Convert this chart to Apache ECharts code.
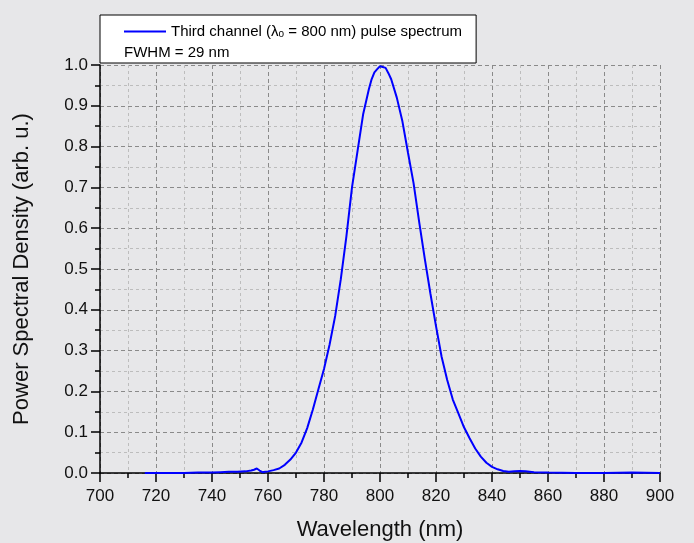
<!DOCTYPE html>
<html lang="en">
<head>
    <meta charset="UTF-8">
    <title>Third channel pulse spectrum</title>
    <script src="https://cdn.jsdelivr.net/npm/echarts@6/dist/echarts.min.js"></script>
    <style>
        body, html {
            margin: 0;
            padding: 0;
            width: 100%;
            height: 100%;
            overflow: hidden;
            background-color: #e7e7e9;
        }
        #container {
            width: 694px;
            height: 543px;
        }
    </style>
</head>
<body>
    <div id="container"></div>
    <script>
        // wavelength (nm) and spectral density
        var wavelength = [716, 720, 725, 730, 735, 740, 743, 746, 749, 752, 754, 755, 756, 757, 758, 759, 760,
            762, 764, 766, 768, 770, 772, 774, 776, 778, 780, 782, 784, 786, 788, 790, 792, 794, 796, 797, 798,
            799, 800, 800.5, 801, 802, 803, 804, 806, 808, 810, 812, 814, 816, 818, 820, 822, 824, 826, 828,
            830, 832, 834, 836, 838, 840, 842, 844, 846, 848, 850, 852, 855, 860, 870, 880, 890, 900];
        var psd = [0.000, 0.000, 0.000, 0.000, 0.001, 0.001, 0.002, 0.003, 0.003, 0.004, 0.006, 0.008, 0.011, 0.006, 0.002, 0.003, 0.004,
            0.007, 0.011, 0.020, 0.033, 0.050, 0.075, 0.110, 0.155, 0.205, 0.255, 0.315, 0.385, 0.475, 0.580, 0.700, 0.790, 0.880, 0.940, 0.965, 0.982,
            0.990, 0.997, 1.000, 0.995, 0.993, 0.980, 0.965, 0.920, 0.862, 0.785, 0.710, 0.615, 0.525, 0.440, 0.360, 0.285, 0.228, 0.180, 0.146,
            0.112, 0.085, 0.060, 0.040, 0.025, 0.015, 0.009, 0.005, 0.003, 0.004, 0.005, 0.004, 0.002, 0.001, 0.000, 0.000, 0.001, 0.000];
        var seriesName = 'Third channel (λo = 800 nm) pulse spectrum';
        var fwhmText = 'FWHM = 29 nm';

        var points = wavelength.map(function (w, i) { return [w, psd[i]]; });

        var font = 'Liberation Sans, Arial, sans-serif';
        var majorGrid = { show: true, lineStyle: { color: '#8a8a8a', type: [4, 3], width: 1 } };
        var minorGrid = { show: true, lineStyle: { color: '#bdbdbd', type: [3, 3], width: 1 } };

        var option = {
            backgroundColor: '#e7e7e9',
            animation: false,
            grid: { left: 100, right: 34, top: 65, bottom: 70, outerBoundsMode: 'none' },
            legend: {
                left: 100,
                top: 15,
                backgroundColor: '#ffffff',
                borderColor: '#000000',
                borderWidth: 1,
                padding: [9, 14, 24, 24],
                itemWidth: 42,
                itemHeight: 14,
                itemGap: 5,
                data: [{ name: seriesName, icon: 'path://M0,0L42,0L42,2L0,2Z' }],
                formatter: function () {
                    return '{a|Third channel (λ}{s|o}{a| = 800 nm) pulse spectrum}';
                },
                textStyle: {
                    fontFamily: font,
                    fontSize: 15,
                    color: '#000',
                    rich: {
                        a: { fontFamily: font, fontSize: 15, color: '#000' },
                        s: { fontFamily: font, fontSize: 10, color: '#000', verticalAlign: 'bottom', padding: [4, 0, 0, 0] }
                    }
                }
            },
            graphic: [{
                type: 'text',
                left: 124,
                top: 45,
                z: 100,
                style: { text: fwhmText, font: '15px ' + font, fill: '#000' }
            }],
            xAxis: {
                type: 'value',
                min: 700,
                max: 900,
                interval: 20,
                name: 'Wavelength (nm)',
                nameLocation: 'middle',
                nameGap: 46,
                nameTextStyle: { fontFamily: font, fontSize: 22, color: '#111' },
                axisLine: { show: true, onZero: false, lineStyle: { color: '#000', width: 1.5 } },
                axisTick: { show: true, length: 9, lineStyle: { color: '#000', width: 1.5 } },
                minorTick: { show: true, splitNumber: 2, length: 5, lineStyle: { color: '#000', width: 1.5 } },
                axisLabel: { fontFamily: font, fontSize: 17, color: '#111', margin: 15 },
                splitLine: majorGrid,
                minorSplitLine: minorGrid
            },
            yAxis: {
                type: 'value',
                min: 0,
                max: 1,
                interval: 0.1,
                name: 'Power Spectral Density (arb. u.)',
                nameLocation: 'middle',
                nameGap: 67,
                nameTextStyle: { fontFamily: font, fontSize: 22, color: '#111' },
                axisLine: { show: true, onZero: false, lineStyle: { color: '#000', width: 1.5 } },
                axisTick: { show: true, length: 9, lineStyle: { color: '#000', width: 1.5 } },
                minorTick: { show: true, splitNumber: 2, length: 5, lineStyle: { color: '#000', width: 1.5 } },
                axisLabel: {
                    fontFamily: font, fontSize: 17, color: '#111', margin: 12,
                    formatter: function (v) { return v.toFixed(1); }
                },
                splitLine: majorGrid,
                minorSplitLine: minorGrid
            },
            series: [{
                name: seriesName,
                type: 'line',
                data: points,
                symbol: 'none',
                smooth: false,
                lineStyle: { color: '#0000ff', width: 2 },
                itemStyle: { color: '#0000ff' },
                z: 5
            }]
        };

        var chart = echarts.init(document.getElementById('container'));
        chart.setOption(option);
    </script>
</body>
</html>
